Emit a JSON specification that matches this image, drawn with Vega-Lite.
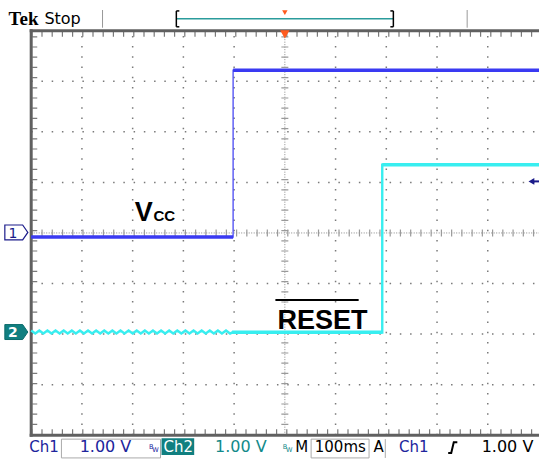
{
  "$schema": "https://vega.github.io/schema/vega-lite/v6.json",
  "width": 544,
  "height": 459,
  "autosize": {"type": "fit", "contains": "padding"},
  "padding": 0,
  "background": "white",
  "config": {"view": {"stroke": null}},
  "encoding": {
    "x": {"field": "x", "type": "quantitative", "scale": {"domain": [-5.615, 5.01], "nice": false, "zero": false}, "axis": null},
    "y": {"field": "y", "type": "quantitative", "scale": {"domain": [-4.392, 4.608], "nice": false, "zero": false}, "axis": null}
  },
  "layer": [
    {
      "data": {"values": [
        {"x": -4, "x2": -4, "y": -4, "y2": 4}, {"x": -3, "x2": -3, "y": -4, "y2": 4},
        {"x": -2, "x2": -2, "y": -4, "y2": 4}, {"x": -1, "x2": -1, "y": -4, "y2": 4},
        {"x": 1, "x2": 1, "y": -4, "y2": 4}, {"x": 2, "x2": 2, "y": -4, "y2": 4},
        {"x": 3, "x2": 3, "y": -4, "y2": 4}, {"x": 4, "x2": 4, "y": -4, "y2": 4}
      ]},
      "mark": {"type": "rule", "color": "#7a7a7a", "strokeWidth": 1.5, "strokeDash": [1.5, 8.7]},
      "encoding": {"x2": {"field": "x2"}, "y2": {"field": "y2"}}
    },
    {
      "data": {"values": [
        {"x": -5, "x2": 5.01, "y": -3, "y2": -3}, {"x": -5, "x2": 5.01, "y": -2, "y2": -2},
        {"x": -5, "x2": 5.01, "y": -1, "y2": -1}, {"x": -5, "x2": 5.01, "y": 1, "y2": 1},
        {"x": -5, "x2": 5.01, "y": 2, "y2": 2}, {"x": -5, "x2": 5.01, "y": 3, "y2": 3}
      ]},
      "mark": {"type": "rule", "color": "#7a7a7a", "strokeWidth": 1.5, "strokeDash": [1.5, 8.74]},
      "encoding": {"x2": {"field": "x2"}, "y2": {"field": "y2"}}
    },
    {
      "data": {"values": [
        {"x": 0, "x2": 0, "y": -4, "y2": 4},
        {"x": -5, "x2": 5.01, "y": 0, "y2": 0}
      ]},
      "mark": {"type": "rule", "color": "#8a8a8a", "strokeWidth": 1, "strokeDash": [1, 1.5]},
      "encoding": {"x2": {"field": "x2"}, "y2": {"field": "y2"}}
    },
    {
      "data": {"values": [{"x": 0, "x2": 0, "y": -4, "y2": 4}]},
      "mark": {"type": "rule", "color": "#9a9a9a", "strokeWidth": 7, "strokeDash": [1.2, 9.0]},
      "encoding": {"x2": {"field": "x2"}, "y2": {"field": "y2"}}
    },
    {
      "data": {"values": [{"x": -5, "x2": 5.01, "y": 0, "y2": 0}]},
      "mark": {"type": "rule", "color": "#9a9a9a", "strokeWidth": 7, "strokeDash": [1.2, 9.04]},
      "encoding": {"x2": {"field": "x2"}, "y2": {"field": "y2"}}
    },
    {
      "data": {"values": [
        {"x": -4.93, "x2": -4.93, "y": -4, "y2": 4},
        {"x": -5, "x2": 5.01, "y": 3.93, "y2": 3.93},
        {"x": -5, "x2": 5.01, "y": -3.93, "y2": -3.93}
      ]},
      "mark": {"type": "rule", "color": "#7a7a7a", "strokeWidth": 5, "strokeDash": [1.2, 9.0]},
      "encoding": {"x2": {"field": "x2"}, "y2": {"field": "y2"}}
    },
    {
      "data": {"values": [
        {"x": -5, "x2": -5, "y": -4.03, "y2": 4.03},
        {"x": -5.03, "x2": 5.01, "y": 4, "y2": 4},
        {"x": -5.03, "x2": 5.01, "y": -4, "y2": -4}
      ]},
      "mark": {"type": "rule", "color": "#606060", "strokeWidth": 3},
      "encoding": {"x2": {"field": "x2"}, "y2": {"field": "y2"}}
    },
    {
      "data": {"values": [
        {"o": 1, "x": -5.0, "y": -0.08},
        {"o": 2, "x": -1.02, "y": -0.08},
        {"o": 3, "x": -1.02, "y": 3.22},
        {"o": 4, "x": 5.01, "y": 3.22}
      ]},
      "mark": {"type": "line", "color": "#4a4af4", "strokeWidth": 1.3},
      "encoding": {"order": {"field": "o", "type": "quantitative"}}
    },
    {
      "data": {"values": [
        {"x": -5.0, "x2": -1.02, "y": -0.08},
        {"x": -1.02, "x2": 5.01, "y": 3.22}
      ]},
      "mark": {"type": "rule", "color": "#3a3af2", "strokeWidth": 3.5},
      "encoding": {"x2": {"field": "x2"}}
    },
    {
      "data": {"values": [
        {"o": 1, "x": -5.00, "y": -1.93}, {"o": 2, "x": -4.92, "y": -1.99}, {"o": 3, "x": -4.84, "y": -1.93}, {"o": 4, "x": -4.76, "y": -1.99},
        {"o": 5, "x": -4.68, "y": -1.93}, {"o": 6, "x": -4.60, "y": -1.99}, {"o": 7, "x": -4.52, "y": -1.93}, {"o": 8, "x": -4.44, "y": -1.99},
        {"o": 9, "x": -4.36, "y": -1.93}, {"o": 10, "x": -4.28, "y": -1.99}, {"o": 11, "x": -4.20, "y": -1.93}, {"o": 12, "x": -4.12, "y": -1.99},
        {"o": 13, "x": -4.04, "y": -1.93}, {"o": 14, "x": -3.96, "y": -1.99}, {"o": 15, "x": -3.88, "y": -1.93}, {"o": 16, "x": -3.80, "y": -1.99},
        {"o": 17, "x": -3.72, "y": -1.93}, {"o": 18, "x": -3.64, "y": -1.99}, {"o": 19, "x": -3.56, "y": -1.93}, {"o": 20, "x": -3.48, "y": -1.99},
        {"o": 21, "x": -3.40, "y": -1.93}, {"o": 22, "x": -3.32, "y": -1.99}, {"o": 23, "x": -3.24, "y": -1.93}, {"o": 24, "x": -3.16, "y": -1.99},
        {"o": 25, "x": -3.08, "y": -1.93}, {"o": 26, "x": -3.00, "y": -1.99}, {"o": 27, "x": -2.92, "y": -1.93}, {"o": 28, "x": -2.84, "y": -1.99},
        {"o": 29, "x": -2.76, "y": -1.93}, {"o": 30, "x": -2.68, "y": -1.99}, {"o": 31, "x": -2.60, "y": -1.93}, {"o": 32, "x": -2.52, "y": -1.99},
        {"o": 33, "x": -2.44, "y": -1.93}, {"o": 34, "x": -2.36, "y": -1.99}, {"o": 35, "x": -2.28, "y": -1.93}, {"o": 36, "x": -2.20, "y": -1.99},
        {"o": 37, "x": -2.12, "y": -1.93}, {"o": 38, "x": -2.04, "y": -1.99}, {"o": 39, "x": -1.96, "y": -1.93}, {"o": 40, "x": -1.88, "y": -1.99},
        {"o": 41, "x": -1.80, "y": -1.93}, {"o": 42, "x": -1.72, "y": -1.99}, {"o": 43, "x": -1.64, "y": -1.93}, {"o": 44, "x": -1.56, "y": -1.99},
        {"o": 45, "x": -1.48, "y": -1.93}, {"o": 46, "x": -1.40, "y": -1.99}, {"o": 47, "x": -1.32, "y": -1.93}, {"o": 48, "x": -1.24, "y": -1.99},
        {"o": 49, "x": -1.16, "y": -1.93}, {"o": 50, "x": -1.08, "y": -1.99},
        {"o": 51, "x": -1.04, "y": -1.97}, {"o": 52, "x": 1.92, "y": -1.97},
        {"o": 53, "x": 1.92, "y": 1.35}, {"o": 54, "x": 5.01, "y": 1.35}
      ]},
      "mark": {"type": "line", "color": "#38eef0", "strokeWidth": 2.4},
      "encoding": {"order": {"field": "o", "type": "quantitative"}}
    },
    {
      "data": {"values": [
        {"x": -1.04, "x2": 1.92, "y": -1.965},
        {"x": 1.92, "x2": 5.01, "y": 1.35}
      ]},
      "mark": {"type": "rule", "color": "#38eef0", "strokeWidth": 3.5},
      "encoding": {"x2": {"field": "x2"}}
    },
    {
      "data": {"values": [{"x": -5.293, "y": 0.01}]},
      "mark": {"type": "point", "shape": "M-1,-0.65L0.55,-0.65L1,0L0.55,0.65L-1,0.65Z", "size": 529, "filled": true, "fill": "white", "stroke": "#1a1a8a", "strokeWidth": 1.2, "opacity": 1}
    },
    {
      "data": {"values": [{"x": -5.293, "y": -1.96}]},
      "mark": {"type": "point", "shape": "M-1,-0.65L0.55,-0.65L1,0L0.55,0.65L-1,0.65Z", "size": 529, "filled": true, "fill": "#117f80", "stroke": "#0c6c6c", "strokeWidth": 1, "opacity": 1}
    },
    {
      "data": {"values": [{"x": -5.36, "y": -0.095, "label": "1"}]},
      "mark": {"type": "text", "font": "DejaVu Sans", "fontSize": 14, "align": "center", "baseline": "alphabetic", "color": "#1a1a8a"},
      "encoding": {"text": {"field": "label"}}
    },
    {
      "data": {"values": [{"x": -5.36, "y": -2.065, "label": "2"}]},
      "mark": {"type": "text", "font": "DejaVu Sans", "fontSize": 14, "fontWeight": "bold", "align": "center", "baseline": "alphabetic", "color": "white"},
      "encoding": {"text": {"field": "label"}}
    },
    {
      "data": {"values": [{"x": 4.85, "x2": 5.01, "y": 1.02}]},
      "mark": {"type": "rule", "color": "#1a1a8a", "strokeWidth": 2},
      "encoding": {"x2": {"field": "x2"}}
    },
    {
      "data": {"values": [{"x": 4.86, "y": 1.02}]},
      "mark": {"type": "point", "shape": "triangle-left", "size": 45, "filled": true, "color": "#1a1a8a", "opacity": 1}
    },
    {
      "data": {"values": [{"x": -2.959, "y": 0.235, "label": "V"}]},
      "mark": {"type": "text", "font": "Liberation Sans", "fontSize": 27, "fontWeight": "bold", "align": "left", "baseline": "alphabetic", "color": "black"},
      "encoding": {"text": {"field": "label"}}
    },
    {
      "data": {"values": [{"x": -2.59, "y": 0.235, "label": "CC"}]},
      "mark": {"type": "text", "font": "Liberation Sans", "fontSize": 15, "fontWeight": "bold", "align": "left", "baseline": "alphabetic", "color": "black"},
      "encoding": {"text": {"field": "label"}}
    },
    {
      "data": {"values": [{"x": -0.146, "y": -1.902, "label": "RESET"}]},
      "mark": {"type": "text", "font": "Liberation Sans", "fontSize": 27, "fontWeight": "bold", "align": "left", "baseline": "alphabetic", "color": "black"},
      "encoding": {"text": {"field": "label"}}
    },
    {
      "data": {"values": [{"x": -0.186, "x2": 1.455, "y": -1.324}]},
      "mark": {"type": "rule", "color": "black", "strokeWidth": 2},
      "encoding": {"x2": {"field": "x2"}}
    },
    {
      "data": {"values": [{"x": -5.445, "y": 4.118, "label": "Tek"}]},
      "mark": {"type": "text", "font": "Liberation Serif", "fontSize": 19, "fontWeight": "bold", "align": "left", "baseline": "alphabetic", "color": "black"},
      "encoding": {"text": {"field": "label"}}
    },
    {
      "data": {"values": [{"x": -4.74, "y": 4.137, "label": "Stop"}]},
      "mark": {"type": "text", "font": "DejaVu Sans", "fontSize": 16, "align": "left", "baseline": "alphabetic", "color": "black"},
      "encoding": {"text": {"field": "label"}}
    },
    {
      "data": {"values": [
        {"x": -3.594, "x2": -3.594, "y": 4.06, "y2": 4.41},
        {"x": 3.594, "x2": 3.594, "y": 4.06, "y2": 4.41}
      ]},
      "mark": {"type": "rule", "color": "#999999", "strokeWidth": 1},
      "encoding": {"x2": {"field": "x2"}, "y2": {"field": "y2"}}
    },
    {
      "data": {"values": [{"x": -2.139, "x2": 2.139, "y": 4.235}]},
      "mark": {"type": "rule", "color": "#2b9c9c", "strokeWidth": 1.5},
      "encoding": {"x2": {"field": "x2"}}
    },
    {
      "data": {"values": [
        {"x": -2.139, "x2": -2.139, "y": 4.078, "y2": 4.392},
        {"x": -2.139, "x2": -2.08, "y": 4.392, "y2": 4.392},
        {"x": -2.139, "x2": -2.08, "y": 4.078, "y2": 4.078},
        {"x": 2.139, "x2": 2.139, "y": 4.078, "y2": 4.392},
        {"x": 2.08, "x2": 2.139, "y": 4.392, "y2": 4.392},
        {"x": 2.08, "x2": 2.139, "y": 4.078, "y2": 4.078}
      ]},
      "mark": {"type": "rule", "color": "black", "strokeWidth": 1.5},
      "encoding": {"x2": {"field": "x2"}, "y2": {"field": "y2"}}
    },
    {
      "data": {"values": [{"x": 0, "y": 4.36}]},
      "mark": {"type": "point", "shape": "triangle-down", "size": 30, "filled": true, "color": "#ff5a1e", "opacity": 1}
    },
    {
      "data": {"values": [{"x": 0, "y": 3.93}]},
      "mark": {"type": "point", "shape": "triangle-down", "size": 90, "filled": true, "color": "#ff5a1e", "opacity": 1}
    },
    {
      "data": {"values": [{"x": -2.431, "x2": -1.787, "y": -4.059, "y2": -4.392}]},
      "mark": {"type": "rect", "color": "#117f80", "opacity": 1},
      "encoding": {"x2": {"field": "x2"}, "y2": {"field": "y2"}}
    },
    {
      "data": {"values": [
        {"x": -4.404, "x2": -2.451, "y": -4.078, "y2": -4.45},
        {"x": 0.518, "x2": 1.66, "y": -4.078, "y2": -4.45}
      ]},
      "mark": {"type": "rect", "fill": null, "fillOpacity": 0, "stroke": "#aaaaaa", "strokeWidth": 1},
      "encoding": {"x2": {"field": "x2"}, "y2": {"field": "y2"}}
    },
    {
      "data": {"values": [{"x": 1.98, "x2": 1.98, "y": -4.078, "y2": -4.45}]},
      "mark": {"type": "rule", "color": "#aaaaaa", "strokeWidth": 1},
      "encoding": {"x2": {"field": "x2"}, "y2": {"field": "y2"}}
    },
    {
      "data": {"values": [
        {"x": -5.039, "y": -4.333, "label": "Ch1", "ch": "ch1"},
        {"x": -2.39, "y": -4.333, "label": "Ch2", "ch": "inv"},
        {"x": 0.205, "y": -4.333, "label": "M", "ch": "plain"},
        {"x": 1.75, "y": -4.333, "label": "A", "ch": "plain"},
        {"x": 2.25, "y": -4.333, "label": "Ch1", "ch": "ch1"}
      ]},
      "mark": {"type": "text", "font": "DejaVu Sans", "fontSize": 15, "align": "left", "baseline": "alphabetic"},
      "encoding": {
        "text": {"field": "label"},
        "color": {"field": "ch", "type": "nominal", "scale": {"domain": ["ch1", "ch2", "plain", "inv"], "range": ["#20249c", "#128a8a", "#000000", "#ffffff"]}, "legend": null}
      }
    },
    {
      "data": {"values": [
        {"x": -4.045, "y": -4.333, "label": "1.00 V", "ch": "ch1"},
        {"x": -1.377, "y": -4.333, "label": "1.00 V", "ch": "ch2"},
        {"x": 3.88, "y": -4.333, "label": "1.00 V", "ch": "plain"}
      ]},
      "mark": {"type": "text", "font": "DejaVu Sans", "fontSize": 16, "align": "left", "baseline": "alphabetic"},
      "encoding": {
        "text": {"field": "label"},
        "color": {"field": "ch", "type": "nominal", "scale": {"domain": ["ch1", "ch2", "plain", "inv"], "range": ["#20249c", "#128a8a", "#000000", "#ffffff"]}, "legend": null}
      }
    },
    {
      "data": {"values": [
        {"x": 0.59, "y": -4.333, "label": "100ms", "ch": "plain"}
      ]},
      "mark": {"type": "text", "font": "DejaVu Sans", "fontSize": 15, "align": "left", "baseline": "alphabetic"},
      "encoding": {
        "text": {"field": "label"},
        "color": {"field": "ch", "type": "nominal", "scale": {"domain": ["ch1", "ch2", "plain", "inv"], "range": ["#20249c", "#128a8a", "#000000", "#ffffff"]}, "legend": null}
      }
    },
    {
      "data": {"values": [
        {"x": -2.68, "y": -4.27, "label": "B", "ch": "ch1"},
        {"x": -2.615, "y": -4.34, "label": "W", "ch": "ch1"},
        {"x": -0.04, "y": -4.27, "label": "B", "ch": "ch2"},
        {"x": 0.025, "y": -4.34, "label": "W", "ch": "ch2"}
      ]},
      "mark": {"type": "text", "font": "DejaVu Sans", "fontSize": 6.5, "align": "left", "baseline": "alphabetic"},
      "encoding": {
        "text": {"field": "label"},
        "color": {"field": "ch", "type": "nominal", "scale": {"domain": ["ch1", "ch2", "plain", "inv"], "range": ["#20249c", "#128a8a", "#000000", "#ffffff"]}, "legend": null}
      }
    },
    {
      "data": {"values": [
        {"o": 1, "x": 3.22, "y": -4.35},
        {"o": 2, "x": 3.28, "y": -4.35},
        {"o": 3, "x": 3.33, "y": -4.14},
        {"o": 4, "x": 3.40, "y": -4.14}
      ]},
      "mark": {"type": "line", "color": "black", "strokeWidth": 2},
      "encoding": {"order": {"field": "o", "type": "quantitative"}}
    }
  ]
}
